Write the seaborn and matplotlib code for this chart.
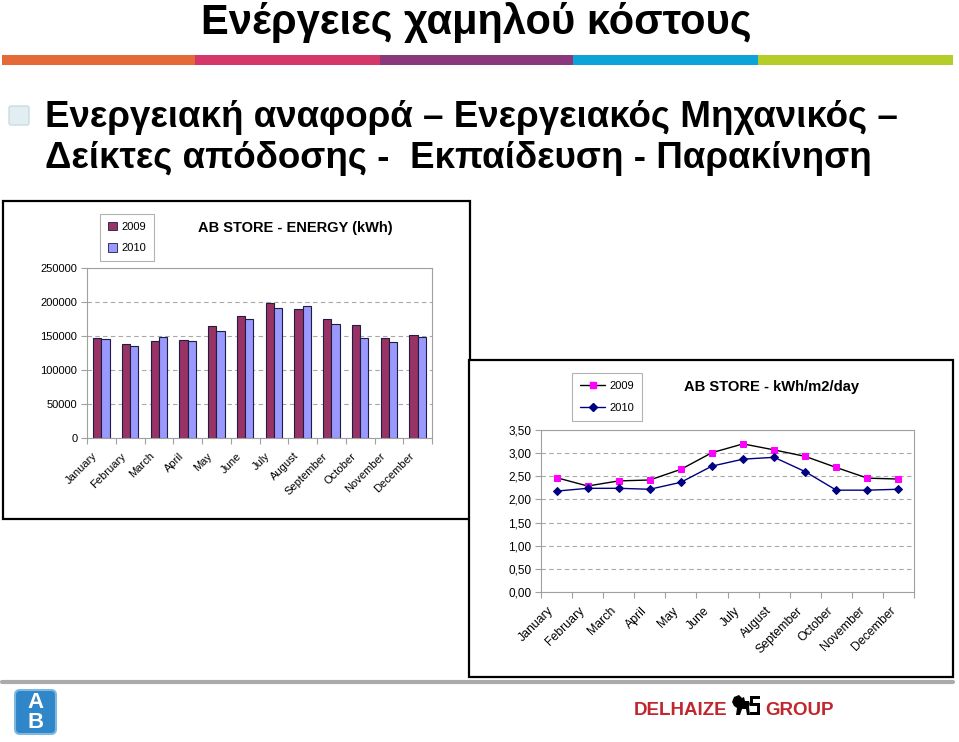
import numpy as np
import pandas as pd
import matplotlib
matplotlib.use("Agg")
import matplotlib.pyplot as plt
import seaborn as sns
from matplotlib.patches import Rectangle, FancyBboxPatch, Polygon
from matplotlib.lines import Line2D
from matplotlib.ticker import FuncFormatter
from matplotlib.transforms import ScaledTranslation

# ---------------- data ----------------
months = ["January", "February", "March", "April", "May", "June", "July",
          "August", "September", "October", "November", "December"]
years = ["2009", "2010"]
energy_2009 = [146500, 137700, 143000, 144000, 164000, 178700, 197800,
               190000, 174800, 166000, 147000, 151400]
energy_2010 = [145500, 134800, 148400, 143000, 156700, 175300, 191000,
               193400, 167500, 147000, 141600, 148400]
intensity_2009 = [2.47, 2.29, 2.40, 2.42, 2.65, 3.01, 3.20, 3.07, 2.93, 2.69, 2.46, 2.44]
intensity_2010 = [2.18, 2.24, 2.24, 2.22, 2.37, 2.72, 2.87, 2.91, 2.60, 2.20, 2.20, 2.22]
bar_yticks = [0, 50000, 100000, 150000, 200000, 250000]
line_yticks = [0.0, 0.5, 1.0, 1.5, 2.0, 2.5, 3.0, 3.5]

slide_title = "Ενέργειες χαμηλού κόστους"
bullet_lines = ["Ενεργειακή αναφορά – Ενεργειακός Μηχανικός –",
                "Δείκτες απόδοσης -  Εκπαίδευση - Παρακίνηση"]
bar_title = "AB STORE - ENERGY (kWh)"
line_title = "AB STORE - kWh/m2/day"

# ---------------- setup ----------------
W, H = 959, 742
sns.set_theme(style="white")
plt.rcParams["font.family"] = ["Liberation Sans", "DejaVu Sans"]
for k in ["text.color", "axes.labelcolor", "xtick.color", "ytick.color"]:
    plt.rcParams[k] = "black"

fig = plt.figure(figsize=(W / 100, H / 100), dpi=100)
fig.patch.set_facecolor("white")


def rect_px(x0, y0, x1, y1):
    return [x0 / W, 1 - y1 / H, (x1 - x0) / W, (y1 - y0) / H]


# decoration layer in pixel coordinates (y downwards)
deco = fig.add_axes([0, 0, 1, 1], zorder=-5)
deco.set_xlim(0, W)
deco.set_ylim(H, 0)
deco.axis("off")
T = deco.transData

# colour stripe
stripe = [(2, 195, "#E56B36"), (195, 380, "#D4386A"), (380, 573, "#8A377C"),
          (573, 758, "#0CA4D8"), (758, 953, "#B5CD29")]
for x0, x1, c in stripe:
    deco.add_patch(Rectangle((x0, 55), x1 - x0, 10, fc=c, ec="none"))

# title + bullet text
deco.text(476, 34, slide_title, ha="center", va="baseline", fontsize=30, weight="bold")
deco.add_patch(FancyBboxPatch((9, 106), 20, 19, boxstyle="round,pad=0,rounding_size=2",
                              fc="#E3EEF3", ec="#C9DCE5", lw=1))
deco.text(45, 127, bullet_lines[0], ha="left", va="baseline", fontsize=26.5, weight="bold")
deco.text(45, 168, bullet_lines[1], ha="left", va="baseline", fontsize=26.5, weight="bold")

# bottom separator and logos
deco.add_line(Line2D([2, 953], [682, 682], color="#ABABAB", lw=3))
deco.add_patch(FancyBboxPatch((15, 690), 41, 44, boxstyle="round,pad=0,rounding_size=5",
                              fc="#2F86C8", ec="#7FB8E0", lw=1.5))
deco.text(35.5, 702, "A", ha="center", va="center", fontsize=16, weight="bold", color="white")
deco.text(35.5, 723, "B", ha="center", va="center", fontsize=16, weight="bold", color="white")
deco.text(634, 715, "DELHAIZE", ha="left", va="baseline", fontsize=13.5, weight="bold",
          color="#C0272D")
deco.text(834, 715, "GROUP", ha="right", va="baseline", fontsize=13.5, weight="bold",
          color="#C0272D")
lion = np.array([(2, 2), (7, 0), (10, 3), (12, 2), (13, 6), (17, 6), (18, 9), (17, 12),
                 (18, 20), (15, 20), (14, 14), (10, 14), (8, 20), (4, 20), (5, 13),
                 (2, 11), (0, 7)], float)
deco.add_patch(Polygon(lion + [732, 695], closed=True, fc="black", ec="none"))
deco.add_patch(Rectangle((750, 696), 10, 3, fc="black", ec="none"))
deco.add_patch(Rectangle((750, 696), 3, 9, fc="black", ec="none"))
deco.add_patch(Rectangle((750, 703), 10, 3, fc="black", ec="none"))
deco.add_patch(Rectangle((757, 703), 3, 12, fc="black", ec="none"))
deco.add_patch(Rectangle((750, 712), 10, 3, fc="black", ec="none"))

# chart boxes
fig.add_artist(Rectangle((3, 201), 467, 318, transform=T, fc="white", ec="black", lw=1.6, zorder=0.5))
fig.add_artist(Rectangle((469, 360), 484, 317, transform=T, fc="white", ec="black", lw=1.6, zorder=2))

grid_kw = dict(color="#A8A8A8", lw=0.8, linestyle=(0, (4, 3)))
label_shift = ScaledTranslation(-9 / 100, -3 / 100, fig.dpi_scale_trans)


def style_axes(ax, fs):
    for s in ax.spines.values():
        s.set_color("#A0A0A0")
        s.set_linewidth(0.8)
    ax.set_xlim(-0.5, 11.5)
    ax.set_xticks(range(12))
    ax.set_xticks(np.arange(-0.5, 12, 1), minor=True)
    ax.set_xticklabels(months, rotation=45, ha="right", va="top",
                       rotation_mode="anchor", fontsize=fs)
    ax.tick_params(axis="x", which="major", length=0, pad=7)
    ax.tick_params(axis="x", which="minor", bottom=True, length=4, color="#A0A0A0", width=0.8)
    ax.tick_params(axis="y", left=True, length=4, color="#A0A0A0", width=0.8, pad=3, labelsize=8)
    ax.set_xlabel("")
    ax.set_ylabel("")
    ax.set_axisbelow(True)


def shift_labels(ax):
    for lab in ax.get_xticklabels():
        lab.set_transform(lab.get_transform() + label_shift)


# ---------------- bar chart ----------------
axb = fig.add_axes(rect_px(87, 268, 432, 438), zorder=1)
df_bar = pd.DataFrame({"Month": months * 2,
                       "Year": [years[0]] * 12 + [years[1]] * 12,
                       "kWh": energy_2009 + energy_2010})
sns.barplot(data=df_bar, x="Month", y="kWh", hue="Year", order=months, hue_order=years,
            palette=["#993366", "#9999FF"], saturation=1, width=0.58, gap=0,
            edgecolor="#1E1E40", linewidth=0.8, errorbar=None, legend=False, ax=axb)
axb.set_ylim(0, 250000)
axb.set_yticks(bar_yticks)
axb.set_yticklabels([str(v) for v in bar_yticks])
style_axes(axb, 8)
axb.yaxis.grid(True, **grid_kw)
shift_labels(axb)

leg_b = fig.legend([Rectangle((0, 0), 1, 1, fc=c, ec="#1E1E40", lw=0.6) for c in ["#993366", "#9999FF"]],
                   years, loc="upper left", bbox_to_anchor=(100 / W, 1 - 214 / H),
                   fontsize=8, frameon=True, fancybox=False, edgecolor="#A0A0A0",
                   handlelength=0.8, handleheight=0.8, handletextpad=0.4,
                   borderpad=0.7, labelspacing=1.0, borderaxespad=0)
leg_b.get_frame().set_linewidth(0.8)
fig.text(295 / W, 1 - 228 / H, bar_title, ha="center", va="center", fontsize=10.5, weight="bold")

# ---------------- line chart ----------------
axl = fig.add_axes(rect_px(541, 430, 914, 592), zorder=3)
sns.lineplot(x=months, y=intensity_2009, sort=False, color="black", lw=1,
             marker="s", markersize=5, markerfacecolor="#FF00FF", markeredgecolor="#FF00FF", ax=axl)
sns.lineplot(x=months, y=intensity_2010, sort=False, color="#000080", lw=1,
             marker="D", markersize=4, markerfacecolor="#000080", markeredgecolor="#000080", ax=axl)
axl.set_ylim(0, 3.5)
axl.set_yticks(line_yticks)
axl.yaxis.set_major_formatter(FuncFormatter(lambda v, p: f"{v:.2f}".replace(".", ",")))
style_axes(axl, 8.8)
axl.tick_params(axis="y", labelsize=8.5)
axl.yaxis.grid(True, **grid_kw)
shift_labels(axl)

h1 = Line2D([], [], color="black", lw=1, marker="s", markersize=5,
            markerfacecolor="#FF00FF", markeredgecolor="#FF00FF")
h2 = Line2D([], [], color="#000080", lw=1, marker="D", markersize=4,
            markerfacecolor="#000080", markeredgecolor="#000080")
leg_l = fig.legend([h1, h2], years, loc="upper left", bbox_to_anchor=(572 / W, 1 - 373 / H),
                   fontsize=8, frameon=True, fancybox=False, edgecolor="#A0A0A0",
                   handlelength=2.2, handletextpad=0.4, borderpad=0.75, labelspacing=1.05,
                   borderaxespad=0)
leg_l.get_frame().set_linewidth(0.8)
leg_l.set_zorder(6)
fig.text(772 / W, 1 - 387 / H, line_title, ha="center", va="center", fontsize=10.6,
         weight="bold", zorder=6)

fig.savefig("out.png", dpi=100, facecolor="white")
